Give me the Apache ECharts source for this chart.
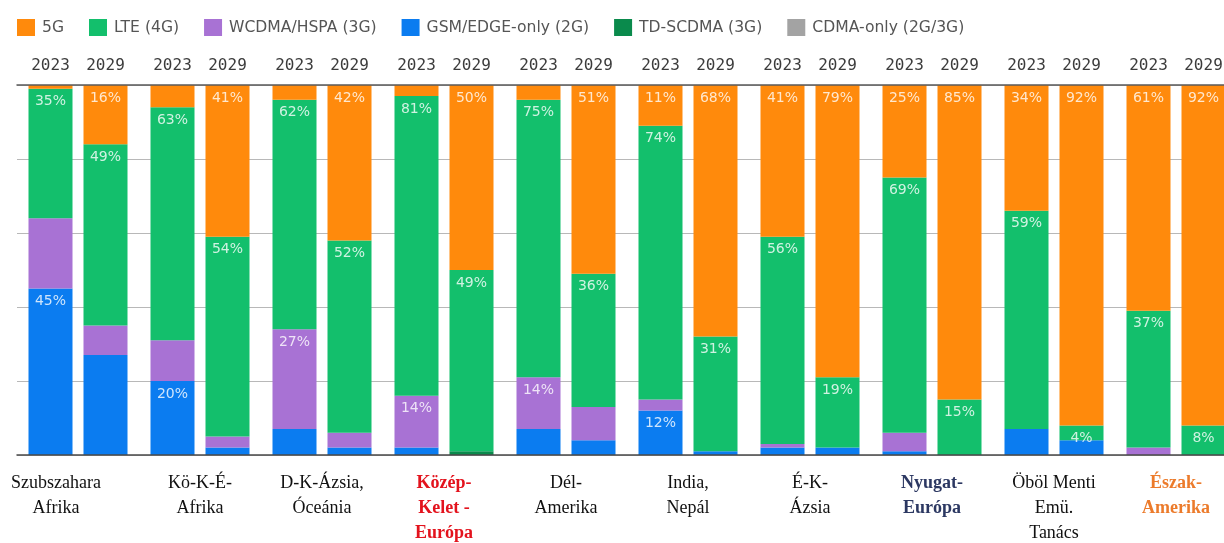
<!DOCTYPE html>
<html>
<head>
<meta charset="utf-8">
<script src="https://cdn.jsdelivr.net/npm/echarts@6/dist/echarts.min.js"></script>
<style>
  html, body { margin: 0; padding: 0; background: #ffffff; }
  #chart { width: 1224px; height: 543px; }
</style>
</head>
<body>
<div id="chart"></div>
<script>
// Regions (bottom axis) and the two compared years (top axis)
const regions = [
  'Szubszahara\nAfrika', 'Kö-K-É-\nAfrika', 'D-K-Ázsia,\nÓceánia', 'Közép-\nKelet -\nEurópa',
  'Dél-\nAmerika', 'India,\nNepál', 'É-K-\nÁzsia', 'Nyugat-\nEurópa',
  'Öböl Menti\nEmü.\nTanács', 'Észak-\nAmerika'
];
const years = ['2023', '2029'];

// Subscription shares by technology, percent, 2023
const g5_2023    = [1, 6, 4, 3, 4, 11, 41, 25, 34, 61];
const lte_2023   = [35, 63, 62, 81, 75, 74, 56, 69, 59, 37];
const wcdma_2023 = [19, 11, 27, 14, 14, 3, 1, 5, 0, 2];
const gsm_2023   = [45, 20, 7, 2, 7, 12, 2, 1, 7, 0];
const td_2023    = [0, 0, 0, 0, 0, 0, 0, 0, 0, 0];
const cdma_2023  = [0, 0, 0, 0, 0, 0, 0, 0, 0, 0];

// Subscription shares by technology, percent, 2029
const g5_2029    = [16, 41, 42, 50, 51, 68, 79, 85, 92, 92];
const lte_2029   = [49, 54, 52, 49, 36, 31, 19, 15, 4, 8];
const wcdma_2029 = [8, 3, 4, 0, 9, 0, 0, 0, 0, 0];
const gsm_2029   = [27, 2, 2, 0, 4, 1, 2, 0, 4, 0];
const td_2029    = [0, 0, 0, 1, 0, 0, 0, 0, 0, 0];
const cdma_2029  = [0, 0, 0, 0, 0, 0, 0, 0, 0, 0];

// Which segments carry a value label (1 = labelled)
const show5G_2023    = [0, 0, 0, 0, 0, 1, 1, 1, 1, 1];
const showLTE_2023   = [1, 1, 1, 1, 1, 1, 1, 1, 1, 1];
const showWCDMA_2023 = [0, 0, 1, 1, 1, 0, 0, 0, 0, 0];
const showGSM_2023   = [1, 1, 0, 0, 0, 1, 0, 0, 0, 0];
const show5G_2029    = [1, 1, 1, 1, 1, 1, 1, 1, 1, 1];
const showLTE_2029   = [1, 1, 1, 1, 1, 1, 1, 1, 1, 1];
const showNone       = [0, 0, 0, 0, 0, 0, 0, 0, 0, 0];

const colors = {
  g5: '#ff8a0c', lte: '#13bf6c', wcdma: '#a872d4',
  gsm: '#0b7cf0', td: '#0a8a4c', cdma: '#a3a3a3'
};

function makeSeries(name, color, values, flags, stack) {
  return {
    name: name,
    type: 'bar',
    stack: stack,
    barWidth: 44,
    barGap: '25%',
    itemStyle: { color: color },
    data: values.map((v, i) => ({
      value: v,
      label: { show: !!flags[i] }
    })),
    label: {
      position: 'insideTop',
      distance: 6,
      formatter: '{c}%',
      color: 'rgba(255,255,255,0.8)',
      fontFamily: 'DejaVu Sans',
      fontSize: 14
    },
    emphasis: { disabled: true }
  };
}

// Bottom-to-top stacking order within each bar
const series = [
  makeSeries('GSM/EDGE-only (2G)', colors.gsm, gsm_2023, showGSM_2023, years[0]),
  makeSeries('WCDMA/HSPA (3G)', colors.wcdma, wcdma_2023, showWCDMA_2023, years[0]),
  makeSeries('TD-SCDMA (3G)', colors.td, td_2023, showNone, years[0]),
  makeSeries('CDMA-only (2G/3G)', colors.cdma, cdma_2023, showNone, years[0]),
  makeSeries('LTE (4G)', colors.lte, lte_2023, showLTE_2023, years[0]),
  makeSeries('5G', colors.g5, g5_2023, show5G_2023, years[0]),
  makeSeries('GSM/EDGE-only (2G)', colors.gsm, gsm_2029, showNone, years[1]),
  makeSeries('WCDMA/HSPA (3G)', colors.wcdma, wcdma_2029, showNone, years[1]),
  makeSeries('TD-SCDMA (3G)', colors.td, td_2029, showNone, years[1]),
  makeSeries('CDMA-only (2G/3G)', colors.cdma, cdma_2029, showNone, years[1]),
  makeSeries('LTE (4G)', colors.lte, lte_2029, showLTE_2029, years[1]),
  makeSeries('5G', colors.g5, g5_2029, show5G_2029, years[1])
];

// Highlighted region names
const regionStyle = {
  'Közép-\nKelet -\nEurópa': 'red',
  'Nyugat-\nEurópa': 'navy',
  'Észak-\nAmerika': 'orange'
};

const chart = echarts.init(document.getElementById('chart'), null, { renderer: 'canvas' });

chart.setOption({
  animation: false,
  legend: {
    data: ['5G', 'LTE (4G)', 'WCDMA/HSPA (3G)', 'GSM/EDGE-only (2G)', 'TD-SCDMA (3G)', 'CDMA-only (2G/3G)'],
    left: 12,
    top: 14,
    icon: 'rect',
    itemWidth: 18,
    itemHeight: 17,
    itemGap: 25,
    selectedMode: false,
    textStyle: { fontFamily: 'DejaVu Sans', fontSize: 15.6, color: '#555555', padding: [0, 0, 0, 2] }
  },
  grid: { left: 17, width: 1220, top: 85, bottom: 88, containLabel: false, outerBoundsMode: 'none' },
  xAxis: [
    {
      type: 'category',
      position: 'bottom',
      data: regions,
      z: 5,
      axisTick: { show: false },
      axisLine: { lineStyle: { color: '#4a4a4a', width: 1.5 } },
      axisLabel: {
        interval: 0,
        margin: 16,
        formatter: function (value, idx) {
          const key = regionStyle[value] || (idx === 0 ? 'first' : 'plain');
          return value.split('\n').map(l => '{' + key + '|' + l + '}').join('\n');
        },
        rich: {
          plain:  { fontFamily: 'Liberation Serif', fontSize: 18, lineHeight: 25, color: '#111111' },
          first:  { fontFamily: 'Liberation Serif', fontSize: 18, lineHeight: 25, color: '#111111', padding: [0, 44, 0, 0] },
          red:    { fontFamily: 'Liberation Serif', fontSize: 18, lineHeight: 25, color: '#e3131d', fontWeight: 'bold' },
          navy:   { fontFamily: 'Liberation Serif', fontSize: 18, lineHeight: 25, color: '#2c3862', fontWeight: 'bold' },
          orange: { fontFamily: 'Liberation Serif', fontSize: 18, lineHeight: 25, color: '#ec7b2b', fontWeight: 'bold' }
        }
      }
    },
    {
      type: 'category',
      position: 'top',
      data: regions,
      z: 5,
      axisTick: { show: false },
      axisLine: { lineStyle: { color: '#5a5a5a', width: 1.5 } },
      axisLabel: {
        interval: 0,
        margin: 11,
        formatter: function () { return '{y|' + years[0] + '}{y|' + years[1] + '}'; },
        rich: {
          y: { width: 55, align: 'center', fontFamily: 'DejaVu Sans Mono', fontSize: 16, color: '#3c3c3c' }
        }
      }
    }
  ],
  yAxis: {
    type: 'value',
    min: 0,
    max: 100,
    interval: 20,
    axisLabel: { show: false },
    axisLine: { show: false },
    axisTick: { show: false },
    splitLine: { lineStyle: { color: '#b8b8b8', width: 1 } }
  },
  series: series
});
</script>
</body>
</html>
